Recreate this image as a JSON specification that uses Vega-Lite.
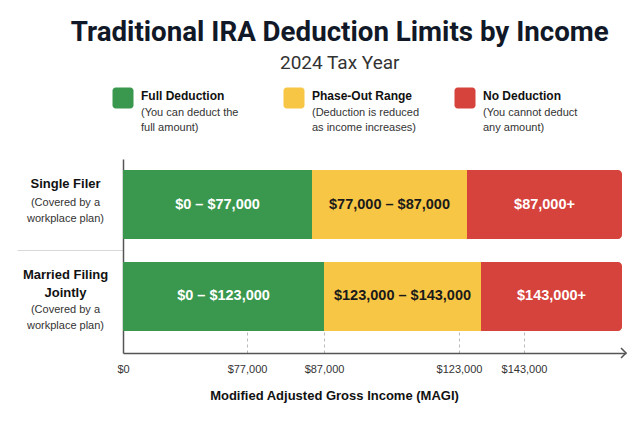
{
  "$schema": "https://vega.github.io/schema/vega-lite/v6.json",
  "background": "#ffffff",
  "padding": {"left": 16, "top": 18, "right": 10, "bottom": 10},
  "title": {
    "text": "Traditional IRA Deduction Limits by Income",
    "subtitle": "2024 Tax Year",
    "anchor": "middle",
    "dx": 17,
    "font": "Roboto",
    "fontSize": 27.7,
    "fontWeight": 700,
    "color": "#111827",
    "subtitleFont": "Roboto",
    "subtitleFontSize": 19,
    "subtitleColor": "#333333",
    "subtitlePadding": 7,
    "offset": 15
  },
  "spacing": 24,
  "vconcat": [
    {
      "width": 342,
      "height": 20,
      "data": {
        "values": [
          {"category": "Full Deduction", "note": "(You can deduct the\nfull amount)"},
          {"category": "Phase-Out Range", "note": "(Deduction is reduced\nas income increases)"},
          {"category": "No Deduction", "note": "(You cannot deduct\nany amount)"}
        ]
      },
      "encoding": {
        "x": {
          "field": "category",
          "type": "nominal",
          "scale": {"type": "point", "padding": 0, "domain": ["Full Deduction", "Phase-Out Range", "No Deduction"]},
          "axis": null
        }
      },
      "layer": [
        {
          "mark": {
            "type": "point",
            "shape": "M-0.7,-1H0.7A0.3,0.3 0 0 1 1,-0.7V0.7A0.3,0.3 0 0 1 0.7,1H-0.7A0.3,0.3 0 0 1 -1,0.7V-0.7A0.3,0.3 0 0 1 -0.7,-1Z",
            "size": 441,
            "filled": true,
            "opacity": 1,
            "strokeWidth": 0
          },
          "encoding": {
            "color": {
              "field": "category",
              "type": "nominal",
              "scale": {
                "domain": ["Full Deduction", "Phase-Out Range", "No Deduction"],
                "range": ["#3a984e", "#f8c645", "#d6423c"]
              },
              "legend": null
            }
          }
        },
        {
          "mark": {
            "type": "text",
            "align": "left",
            "baseline": "middle",
            "dx": 18,
            "dy": -2,
            "font": "Liberation Sans",
            "fontWeight": "bold",
            "fontSize": 12,
            "color": "#111111"
          },
          "encoding": {"text": {"field": "category"}}
        },
        {
          "mark": {
            "type": "text",
            "align": "left",
            "baseline": "top",
            "dx": 18,
            "dy": 9,
            "lineBreak": "\n",
            "lineHeight": 15,
            "font": "Liberation Sans",
            "fontSize": 11,
            "color": "#333333"
          },
          "encoding": {"text": {"field": "note"}}
        }
      ]
    },
    {
      "width": 503,
      "height": 194,
      "data": {
        "values": [
          {"filer": "Single Filer", "category": "Full Deduction", "from": 0, "to": 77000, "label": "$0 – $77,000"},
          {"filer": "Single Filer", "category": "Phase-Out Range", "from": 77000, "to": 87000, "label": "$77,000 – $87,000"},
          {"filer": "Single Filer", "category": "No Deduction", "from": 87000, "to": 160000, "label": "$87,000+"},
          {"filer": "Married Filing Jointly", "category": "Full Deduction", "from": 0, "to": 123000, "label": "$0 – $123,000"},
          {"filer": "Married Filing Jointly", "category": "Phase-Out Range", "from": 123000, "to": 143000, "label": "$123,000 – $143,000"},
          {"filer": "Married Filing Jointly", "category": "No Deduction", "from": 143000, "to": 160000, "label": "$143,000+"}
        ]
      },
      "transform": [{"calculate": "(datum.from + datum.to) / 2", "as": "mid"}],
      "layer": [
        {
          "transform": [{"filter": "datum.filer === 'Single Filer'"}],
          "encoding": {
            "y": {
              "field": "filer",
              "type": "nominal",
              "title": null,
              "scale": {
                "domain": ["Single Filer", "Married Filing Jointly"],
                "paddingInner": 0.25,
                "paddingOuter": 0.18,
                "align": 0.333
              },
              "axis": {
                "orient": "left",
                "grid": false,
                "domain": true,
                "domainColor": "#555555",
                "domainWidth": 1.5,
                "ticks": true,
                "tickOffset": -46.5,
                "tickSize": 106,
                "tickWidth": 1,
                "tickColor": {"condition": {"test": "datum.value === 'Married Filing Jointly'", "value": "#d9d9d9"}, "value": "transparent"},
                "labelExpr": "datum.value === 'Married Filing Jointly' ? ['Married Filing', 'Jointly'] : datum.value",
                "labelFont": "Liberation Sans",
                "labelFontWeight": "bold",
                "labelFontSize": 13,
                "labelColor": "#111111",
                "labelAlign": "center",
                "labelBaseline": "middle",
                "labelLineHeight": 18,
                "labelPadding": -48,
                "labelOffset": {"condition": {"test": "datum.value === 'Single Filer'", "value": 25.5}, "value": 24.5}
              }
            },
            "x": {
              "field": "from",
              "type": "quantitative",
              "scale": {"domain": [0, 77000, 87000, 160000], "range": [0, 189, 344, 499], "nice": false, "zero": false},
              "axis": null
            }
          },
          "layer": [
            {
              "transform": [{"filter": "datum.category !== 'No Deduction'"}],
              "mark": {"type": "bar"},
              "encoding": {
                "x2": {"field": "to"},
                "color": {
                  "field": "category",
                  "type": "nominal",
                  "scale": {
                    "domain": ["Full Deduction", "Phase-Out Range", "No Deduction"],
                    "range": ["#3a984e", "#f8c645", "#d6423c"]
                  },
                  "legend": null
                }
              }
            },
            {
              "transform": [{"filter": "datum.category === 'No Deduction'"}],
              "mark": {"type": "bar", "cornerRadiusTopRight": 4, "cornerRadiusBottomRight": 4},
              "encoding": {
                "x2": {"field": "to"},
                "color": {"field": "category", "type": "nominal", "legend": null}
              }
            },
            {
              "mark": {"type": "text", "font": "Liberation Sans", "fontWeight": "bold", "fontSize": 14.5},
              "encoding": {
                "x": {
                  "field": "mid",
                  "type": "quantitative",
                  "scale": {"domain": [0, 77000, 87000, 160000], "range": [0, 189, 344, 499], "nice": false, "zero": false},
                  "axis": null
                },
                "text": {"field": "label"},
                "color": {"condition": {"test": "datum.category === 'Phase-Out Range'", "value": "#1a1a1a"}, "value": "#ffffff"}
              }
            }
          ]
        },
        {
          "transform": [{"filter": "datum.filer === 'Married Filing Jointly'"}],
          "encoding": {
            "y": {
              "field": "filer",
              "type": "nominal",
              "title": null,
              "scale": {
                "domain": ["Single Filer", "Married Filing Jointly"],
                "paddingInner": 0.25,
                "paddingOuter": 0.18,
                "align": 0.333
              },
              "axis": {
                "orient": "left",
                "grid": false,
                "domain": false,
                "ticks": false,
                "tickSize": 0,
                "labelExpr": "['(Covered by a', 'workplace plan)']",
                "labelFont": "Liberation Sans",
                "labelFontSize": 11,
                "labelColor": "#333333",
                "labelAlign": "center",
                "labelBaseline": "middle",
                "labelLineHeight": 16,
                "labelPadding": 58,
                "labelOffset": {"condition": {"test": "datum.value === 'Single Filer'", "value": -2}, "value": 14}
              }
            },
            "x": {
              "field": "from",
              "type": "quantitative",
              "scale": {"domain": [0, 123000, 143000, 160000], "range": [0, 201, 358, 499], "nice": false, "zero": false},
              "axis": null
            }
          },
          "layer": [
            {
              "transform": [{"filter": "datum.category !== 'No Deduction'"}],
              "mark": {"type": "bar"},
              "encoding": {
                "x2": {"field": "to"},
                "color": {"field": "category", "type": "nominal", "legend": null}
              }
            },
            {
              "transform": [{"filter": "datum.category === 'No Deduction'"}],
              "mark": {"type": "bar", "cornerRadiusTopRight": 4, "cornerRadiusBottomRight": 4},
              "encoding": {
                "x2": {"field": "to"},
                "color": {"field": "category", "type": "nominal", "legend": null}
              }
            },
            {
              "mark": {"type": "text", "font": "Liberation Sans", "fontWeight": "bold", "fontSize": 14.5},
              "encoding": {
                "x": {
                  "field": "mid",
                  "type": "quantitative",
                  "scale": {"domain": [0, 123000, 143000, 160000], "range": [0, 201, 358, 499], "nice": false, "zero": false},
                  "axis": null
                },
                "text": {"field": "label"},
                "color": {"condition": {"test": "datum.category === 'Phase-Out Range'", "value": "#1a1a1a"}, "value": "#ffffff"}
              }
            }
          ]
        },
        {
          "data": {"values": [{"income": 160000}]},
          "mark": {
            "type": "point",
            "shape": "M-1,-1L0,0L-1,1",
            "size": 100,
            "filled": false,
            "stroke": "#555555",
            "strokeWidth": 1.5,
            "opacity": 1
          },
          "encoding": {
            "x": {
              "field": "income",
              "type": "quantitative",
              "scale": {"domain": [0, 77000, 87000, 123000, 143000, 160000], "range": [0, 124, 201, 336, 401, 503], "nice": false, "zero": false},
              "axis": {
                "orient": "bottom",
                "values": [0, 77000, 87000, 123000, 143000],
                "labelExpr": "'$' + format(datum.value, ',')",
                "labelFont": "Liberation Sans",
                "labelFontSize": 11,
                "labelColor": "#333333",
                "labelFlush": false,
                "labelOverlap": false,
                "labelPadding": 32,
                "grid": false,
                "domainColor": "#555555",
                "domainWidth": 1.5,
                "ticks": true,
                "tickSize": -22,
                "tickDash": [3, 3],
                "tickWidth": 1,
                "tickColor": {"condition": {"test": "datum.value === 0", "value": "transparent"}, "value": "#bbbbbb"},
                "title": "Modified Adjusted Gross Income (MAGI)",
                "titleFont": "Liberation Sans",
                "titleFontSize": 13,
                "titleFontWeight": "bold",
                "titleColor": "#111111",
                "titleX": 211,
                "titleAlign": "center",
                "titlePadding": 15
              }
            },
            "y": {"value": "height"}
          }
        }
      ],
      "resolve": {
        "scale": {"x": "independent", "y": "independent"},
        "axis": {"x": "independent", "y": "independent"}
      }
    }
  ],
  "config": {
    "font": "Liberation Sans",
    "view": {"stroke": null}
  }
}
